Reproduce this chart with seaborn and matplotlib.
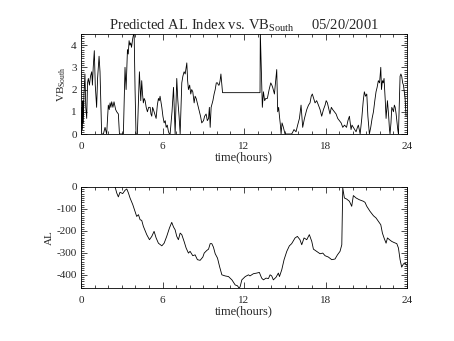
import matplotlib
matplotlib.use("Agg")
import matplotlib.pyplot as plt
import seaborn as sns
import pandas as pd
from matplotlib.ticker import MultipleLocator

# ---- data ----
vb_hours = [0.00, 0.05, 0.10, 0.14, 0.17, 0.22, 0.29, 0.35, 0.42, 0.48, 0.54, 0.62, 0.70, 0.79, 0.84, 0.90,
            0.98, 1.05, 1.15, 1.22, 1.33, 1.40, 1.52, 1.65, 1.77, 1.89, 2.01, 2.08, 2.14, 2.20, 2.26, 2.35,
            2.43, 2.55, 2.63, 2.75, 2.83, 3.12, 3.24, 3.32, 3.42, 3.48, 3.54, 3.60, 3.66, 3.72, 3.81, 3.91,
            3.98, 4.05, 4.15, 4.30, 4.40, 4.47, 4.53, 4.59, 4.65, 4.72, 4.80, 4.89, 4.98, 5.09, 5.15, 5.21,
            5.27, 5.33, 5.43, 5.53, 5.62, 5.70, 5.76, 5.82, 5.95, 6.03, 6.12, 6.20, 6.27, 6.35, 6.44, 6.51,
            6.56, 6.70, 6.81, 6.93, 7.05, 7.13, 7.22, 7.30, 7.42, 7.50, 7.59, 7.67, 7.79, 7.85, 7.91, 8.00,
            8.08, 8.15, 8.23, 8.33, 8.40, 8.48, 8.60, 8.72, 8.80, 8.89, 9.02, 9.10, 9.21, 9.30, 9.39, 9.45,
            9.51, 9.58, 9.71, 9.80, 9.88, 9.96, 10.05, 10.12, 10.17, 10.24, 10.30, 10.37, 10.42, 13.18,
            13.20, 13.35, 13.43, 13.52, 13.60, 13.72, 13.85, 13.97, 14.05, 14.11, 14.24, 14.41, 14.48, 14.55,
            14.61, 14.68, 14.73, 14.80, 14.90, 15.02, 15.51, 15.60, 15.68, 15.83, 15.95, 16.08, 16.20, 16.32,
            16.45, 16.62, 16.75, 16.86, 16.95, 17.03, 17.13, 17.23, 17.35, 17.48, 17.60, 17.72, 17.85, 17.97,
            18.05, 18.14, 18.25, 18.33, 18.43, 18.53, 18.65, 18.78, 18.90, 19.02, 19.15, 19.27, 19.40, 19.55,
            19.65, 19.76, 19.88, 19.95, 20.05, 20.15, 20.25, 20.35, 20.42, 20.55, 20.67, 20.78, 20.86, 20.95,
            21.04, 21.12, 21.23, 21.33, 21.43, 21.53, 21.63, 21.72, 21.80, 21.89, 21.98, 22.07, 22.12, 22.19,
            22.25, 22.31, 22.40, 22.46, 22.56, 22.65, 22.71, 22.75, 22.82, 22.88, 22.95, 23.00, 23.07, 23.13,
            23.20, 23.25, 23.32, 23.37, 23.45, 23.49, 23.55, 23.61, 23.68, 23.74, 23.80, 23.86, 23.93]
vb_values = [0.0, 1.2, 0.2, 1.5, 0.5, 1.8, 2.7, 1.2, 0.7, 2.3, 2.5, 2.2, 2.6, 2.8, 2.2, 3.0,
             3.75, 2.2, 1.2, 2.5, 3.5, 2.8, 0.0, 0.0, 0.3, 0.0, 1.3, 1.1, 1.4, 1.2, 1.45, 1.2,
             1.45, 1.1, 1.0, 0.9, 0.0, 0.0, 3.0, 2.0, 3.8, 3.6, 4.2, 4.0, 4.1, 3.9, 4.3, 4.6,
             2.0, 0.0, 0.0, 2.8, 1.5, 2.4, 1.8, 1.4, 1.6, 1.5, 1.2, 1.0, 1.2, 1.2, 0.9, 0.8,
             1.2, 1.1, 0.9, 0.7, 1.3, 1.6, 1.5, 1.7, 1.2, 0.8, 0.5, 0.6, 0.3, 0.4, 0.1, 0.0,
             0.0, 1.0, 2.1, 0.0, 2.5, 1.5, 0.8, 0.0, 2.3, 2.6, 2.8, 2.7, 3.2, 2.4, 2.0, 2.2,
             1.8, 2.0, 1.9, 1.4, 1.7, 1.6, 1.3, 1.0, 0.8, 0.5, 0.6, 0.8, 0.9, 0.6, 0.7, 1.2,
             0.3, 1.2, 1.5, 1.8, 2.0, 2.3, 2.3, 2.2, 2.2, 2.4, 2.7, 2.2, 1.86, 1.86,
             4.6, 1.2, 1.9, 1.5, 1.6, 1.6, 2.0, 2.3, 2.2, 2.1, 1.8, 2.9, 1.0, 1.2,
             0.8, 0.4, 0.0, 0.5, 0.3, 0.0, 0.0, 0.1, 0.2, 0.1, 0.4, 0.7, 1.3, 0.3,
             0.7, 1.1, 1.3, 1.4, 1.7, 1.8, 1.6, 1.4, 1.5, 1.3, 1.1, 0.8, 1.1, 1.3,
             1.5, 1.4, 1.1, 0.9, 1.2, 1.1, 1.0, 0.9, 0.7, 0.6, 0.5, 0.3, 0.4, 0.3,
             0.6, 0.8, 0.2, 0.4, 0.3, 0.2, 0.1, 0.3, 0.4, 0.0, 0.7, 1.5, 1.9, 1.7,
             1.8, 0.8, 0.0, 0.3, 0.7, 1.0, 1.5, 1.9, 2.1, 2.4, 2.3, 3.0, 2.0, 2.4,
             2.3, 2.5, 1.5, 0.7, 1.5, 0.8, 0.2, 0.0, 0.5, 1.2, 1.1, 1.0, 1.3, 1.2,
             0.9, 0.6, 0.2, 0.0, 1.8, 2.6, 2.7, 2.6, 2.3, 2.2, 1.9, 1.6, 0.8]

al_hours = [2.40, 2.51, 2.63, 2.75, 2.87, 3.07, 3.24, 3.37, 3.49, 3.61, 3.81, 3.98, 4.10, 4.23, 4.35, 4.47,
            4.59, 4.84, 5.04, 5.21, 5.38, 5.53, 5.70, 5.95, 6.12, 6.31, 6.51, 6.68, 6.81, 6.93, 7.05, 7.17,
            7.30, 7.42, 7.59, 7.74, 7.91, 8.03, 8.23, 8.40, 8.57, 8.77, 8.97, 9.07, 9.26, 9.39, 9.51, 9.63,
            9.75, 9.88, 10.05, 10.20, 10.37, 10.61, 10.86, 11.11, 11.35, 11.52, 11.65, 11.72, 11.84, 12.09,
            12.33, 12.44, 12.69, 12.94, 13.13, 13.30, 13.43, 13.62, 13.80, 13.92, 14.04, 14.16, 14.36, 14.53,
            14.61, 14.78, 14.95, 15.15, 15.34, 15.51, 15.76, 15.93, 16.12, 16.25, 16.42, 16.62, 16.81, 16.99,
            17.11, 17.35, 17.60, 17.80, 17.97, 18.21, 18.46, 18.70, 18.88, 19.07, 19.20, 19.27, 19.39, 19.56,
            19.76, 19.93, 20.05, 20.25, 20.49, 20.79, 20.91, 21.04, 21.28, 21.53, 21.72, 21.89, 22.07, 22.19,
            22.31, 22.46, 22.56, 22.71, 22.88, 23.05, 23.25, 23.37, 23.49, 23.61, 23.74, 23.86, 24.00]
al_values = [30, 0, -27, -45, -24, -30, -15, -9, -27, -50, -80, -111, -134, -126, -149, -152,
             -179, -217, -240, -225, -202, -232, -256, -268, -256, -225, -187, -161, -182, -195, -225, -240,
             -210, -217, -248, -278, -301, -293, -313, -309, -331, -334, -319, -301, -289, -283, -258, -258,
             -274, -304, -324, -362, -400, -405, -408, -423, -446, -450, -462, -453, -423, -408,
             -400, -405, -395, -392, -389, -415, -423, -415, -417, -400, -405, -423, -411, -392,
             -408, -377, -331, -293, -268, -258, -232, -225, -240, -263, -232, -240, -217, -248,
             -283, -293, -304, -301, -313, -319, -331, -328, -309, -293, -263, -4, -50, -55,
             -65, -88, -39, -50, -58, -65, -70, -88, -111, -131, -141, -156, -172, -210,
             -232, -256, -232, -240, -248, -253, -258, -278, -331, -365, -350, -347, -357]

x_ticks = [0, 6, 12, 18, 24]
vb_ticks = [0, 1, 2, 3, 4]
al_ticks = [0, -100, -200, -300, -400]

# ---- style ----
sns.set_style("ticks")
plt.rcParams["font.family"] = ["Liberation Serif", "DejaVu Serif"]
plt.rcParams["axes.unicode_minus"] = False
plt.rcParams["mathtext.fontset"] = "custom"
plt.rcParams["mathtext.rm"] = "Liberation Serif"
plt.rcParams["mathtext.it"] = "Liberation Serif:italic"

fig = plt.figure(figsize=(4.54, 3.41), dpi=100)
W, H = 454, 341
ax1 = fig.add_axes([81 / W, 1 - 134 / H, 326 / W, 100 / H])
ax2 = fig.add_axes([81 / W, 1 - 288 / H, 326 / W, 101 / H])

df_vb = pd.DataFrame({"time": vb_hours, "vb": vb_values})
df_al = pd.DataFrame({"time": al_hours, "al": al_values})

sns.lineplot(data=df_vb, x="time", y="vb", ax=ax1, color="black", lw=0.6, estimator=None, sort=False)
sns.lineplot(data=df_al, x="time", y="al", ax=ax2, color="black", lw=0.6, estimator=None, sort=False)

ax1.set_xlim(0, 24)
ax1.set_ylim(0, 4.5)
ax2.set_xlim(0, 24)
ax2.set_ylim(-460, 0)

for ax, yt, ymin in ((ax1, vb_ticks, 0.1), (ax2, al_ticks, 10)):
    ax.set_xticks(x_ticks)
    ax.set_xticklabels([str(t) for t in x_ticks])
    ax.set_yticks(yt)
    ax.set_yticklabels([str(t) for t in yt])
    ax.xaxis.set_minor_locator(MultipleLocator(1))
    ax.yaxis.set_minor_locator(MultipleLocator(ymin))
    ax.tick_params(which="both", direction="in", top=True, right=True, color="black",
                   labelsize=8, width=0.5)
    ax.tick_params(axis="x", which="major", pad=6)
    ax.tick_params(axis="y", which="major", pad=3)
    ax.tick_params(which="major", length=4)
    ax.tick_params(which="minor", length=2)
    for s in ax.spines.values():
        s.set_linewidth(0.6)
        s.set_color("black")
    ax.set_xlabel("time(hours)", fontsize=9, labelpad=0)

ax1.set_ylabel("VB$_{\\mathrm{South}}$", fontsize=8, labelpad=2)
ax2.set_ylabel("AL", fontsize=8, labelpad=2)
ax1.set_title("Predicted AL Index vs. VB$_{\\mathrm{South}}$     05/20/2001", fontsize=10.5, pad=1.5)

fig.savefig("out.png", dpi=100)
